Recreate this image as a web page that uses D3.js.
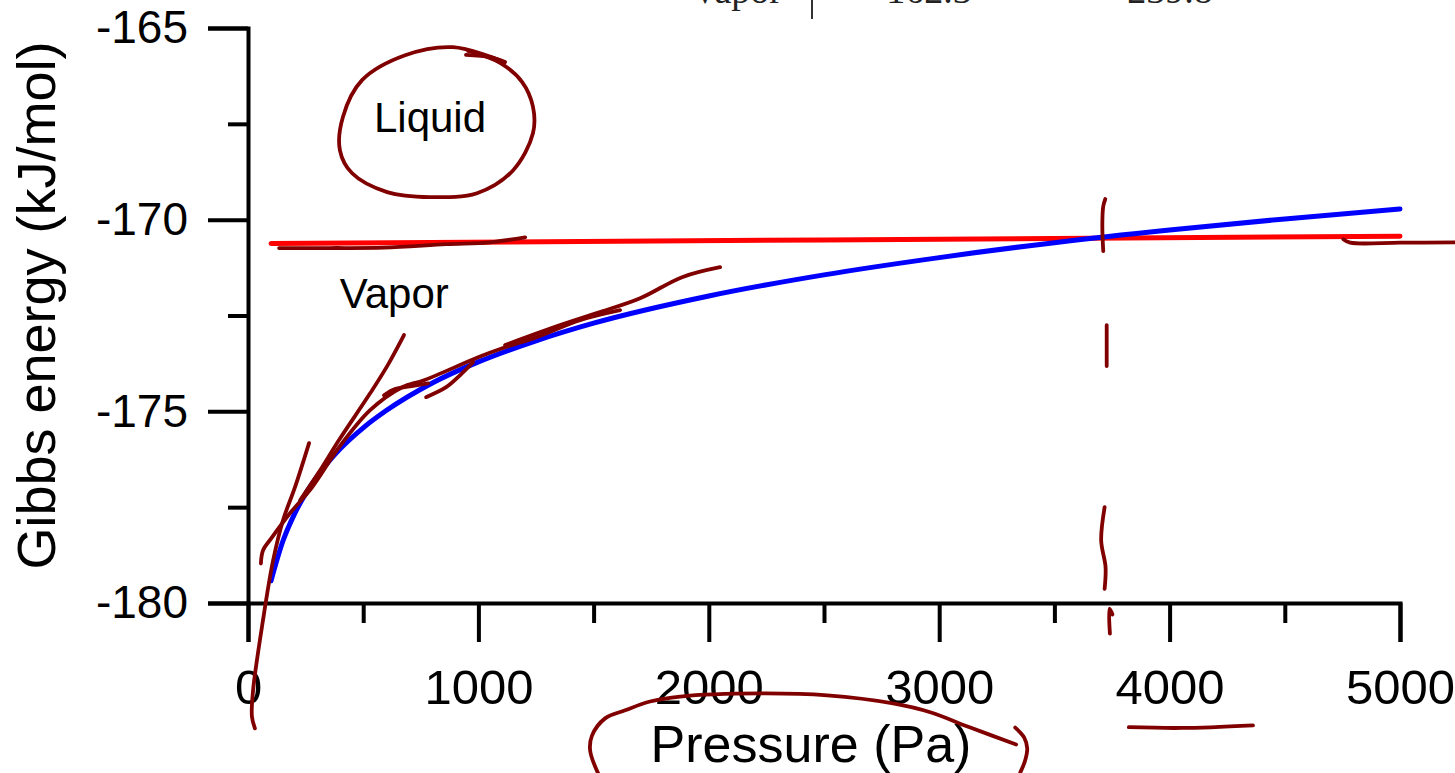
<!DOCTYPE html>
<html>
<head>
<meta charset="utf-8">
<script src="https://cdn.jsdelivr.net/npm/d3@7"></script>
<style>
  html, body { margin: 0; padding: 0; background: #fff; overflow: hidden; }
  svg { display: block; }
  .axis path, .axis line { stroke: #000; stroke-width: 4; }
  .axis text { fill: #000; font-family: "Liberation Sans", Arial, sans-serif; }
  .ink { fill: none; stroke: #800000; stroke-width: 3.8; stroke-linecap: round; stroke-linejoin: round; }
</style>
</head>
<body>
<svg id="chart" width="1455" height="773"></svg>
<script>
// Pressure (Pa) and molar Gibbs energy (kJ/mol) of each phase
const vaporP = [100, 150, 200, 250, 300, 400, 500, 600, 800, 1000, 1250, 1500, 2000, 2500, 3000, 3500, 4000, 4500, 5000];
const vaporG = [-179.42, -178.41, -177.70, -177.15, -176.70, -175.98, -175.43, -174.98, -174.26, -173.71,
                -173.16, -172.70, -171.99, -171.44, -170.99, -170.60, -170.27, -169.98, -169.72];
const liquidP = [100, 2500, 5000];
const liquidG = [-170.62, -170.53, -170.43];

// Axis ticks
const xMajorTicks = [0, 1000, 2000, 3000, 4000, 5000];
const xMinorTicks = [500, 1500, 2500, 3500, 4500];
const yMajorTicks = [-180, -175, -170, -165];
const yMinorTicks = [-177.5, -172.5, -167.5];

// Phase labels
const phaseLabels = ["Liquid", "Vapor"];
const phaseLabelAt = [[790, -167.7], [635, -172.3]];

// Hand-drawn pen strokes, in (pressure, energy) units
const inkLiquidLoop = [[1094,-165.84],[890,-165.50],[682,-165.71],[495,-166.36],[412,-167.32],[399,-168.19],[452,-168.79],
  [604,-169.28],[790,-169.41],[994,-169.31],[1151,-168.71],[1237,-167.74],[1237,-167.06],[1190,-166.41],[1094,-165.91],[955,-165.60]];
const inkLiquidTail = [[946,-165.70],[1051,-165.76],[1116,-165.89]];
const inkLiquidUnder = [[135,-170.74],[356,-170.74],[590,-170.73],[860,-170.64],[1051,-170.59],[1203,-170.46]];
const inkLiquidEnd = [[4754,-170.51],[4784,-170.60],[5001,-170.60],[5240,-170.59]];
const inkSteepTangent = [[30,-183.27],[17,-182.96],[22,-182.28],[65,-180.45],[109,-178.89],[152,-177.84],[204,-176.98],[265,-175.83]];
const inkTrace = [[56,-178.97],[65,-178.63],[104,-178.29],[182,-177.66],[278,-176.98],[395,-175.94],[530,-174.97],
  [669,-174.37],[764,-174.19],[999,-173.59],[1116,-173.33],[1250,-173.07],[1441,-172.62],[1615,-172.36]];
const inkTraceUpper = [[1116,-173.27],[1355,-172.75],[1528,-172.41],[1702,-172.05],[1884,-171.50],[2049,-171.24]];
const inkTangent500 = [[226,-177.32],[313,-176.54],[395,-175.75],[530,-174.53],[604,-173.82],[677,-173.01]];
const inkWiggle = [[590,-174.58],[638,-174.42],[703,-174.35],[782,-174.27]];
const inkShort = [[773,-174.63],[860,-174.37],[920,-174.06],[977,-173.72]];
const inkDash1 = [[3721,-169.46],[3712,-169.65],[3708,-170.14],[3712,-170.82]];
const inkDash2 = [[3727,-172.75],[3727,-173.82]];
const inkDash3 = [[3718,-177.50],[3703,-178.37],[3722,-179.06],[3718,-179.63]];
const inkDash4 = [[3741,-180.80],[3739,-180.15],[3752,-180.30]];
const inkUnder4000 = [[3823,-183.24],[4053,-183.26],[4362,-183.19]];
const inkTitleLoop = [[1520,-184.45],[1485,-183.85],[1493,-183.46],[1550,-183.01],[1637,-182.80],[1745,-182.57],[1876,-182.44],
  [2223,-182.36],[2514,-182.41],[2800,-182.62],[2961,-182.85],[3135,-183.25],[3334,-183.69]];
const inkTitleBracket = [[3330,-183.25],[3369,-183.51],[3382,-183.79],[3373,-184.11],[3352,-184.42]];
const inkStrokes = [inkLiquidLoop, inkLiquidTail, inkLiquidUnder, inkLiquidEnd, inkSteepTangent, inkTrace, inkTraceUpper,
  inkTangent500, inkWiggle, inkShort, inkDash1, inkDash2, inkDash3, inkDash4, inkUnder4000, inkTitleLoop, inkTitleBracket];

// Table row running off the top edge
const tableRow = ["Vapor", "162.3", "239.8"];

const svg = d3.select("#chart");
const x = d3.scaleLinear().domain([0, 5000]).range([248, 1400]);
const y = d3.scaleLinear().domain([-180, -165]).range([603, 28]);
const plain = d => String(d);

// x axis
svg.append("g").attr("class", "axis").attr("transform", `translate(0,${y(-180)})`)
  .call(d3.axisBottom(x).tickValues(xMajorTicks).tickSize(39).tickPadding(27).tickFormat(plain))
  .call(g => g.selectAll("text").style("font-size", "49px"));
svg.append("g").attr("class", "axis").attr("transform", `translate(0,${y(-180)})`)
  .call(d3.axisBottom(x).tickValues(xMinorTicks).tickSize(20).tickFormat(""))
  .call(g => g.select(".domain").remove());

// y axis
svg.append("g").attr("class", "axis").attr("transform", `translate(${x(0)},0)`)
  .call(d3.axisLeft(y).tickValues(yMajorTicks).tickSize(40).tickPadding(20).tickFormat(plain))
  .call(g => g.selectAll("text").style("font-size", "46px"));
svg.append("g").attr("class", "axis").attr("transform", `translate(${x(0)},0)`)
  .call(d3.axisLeft(y).tickValues(yMinorTicks).tickSize(20).tickFormat(""))
  .call(g => g.select(".domain").remove());

// axis titles
svg.append("text").attr("x", 811).attr("y", 762)
  .attr("text-anchor", "middle").style("font-family", "Liberation Sans, Arial, sans-serif")
  .style("font-size", "52px").text("Pressure (Pa)");
svg.append("text").attr("transform", `translate(55,${(y(-165) + y(-180)) / 2 - 10}) rotate(-90)`)
  .attr("text-anchor", "middle").style("font-family", "Liberation Sans, Arial, sans-serif")
  .style("font-size", "54px").text("Gibbs energy (kJ/mol)");

// phase curves
const line = d3.line().x(d => x(d[0])).y(d => y(d[1])).curve(d3.curveMonotoneX);
svg.append("path").datum(liquidP.map((p, i) => [p, liquidG[i]])).attr("d", line)
  .attr("fill", "none").attr("stroke", "#ff0000").attr("stroke-width", 5).attr("stroke-linecap", "round");
svg.append("path").datum(vaporP.map((p, i) => [p, vaporG[i]])).attr("d", line)
  .attr("fill", "none").attr("stroke", "#0000ff").attr("stroke-width", 5).attr("stroke-linecap", "round");

// phase labels
svg.selectAll("text.phase").data(phaseLabels).join("text").attr("class", "phase")
  .attr("x", (d, i) => x(phaseLabelAt[i][0])).attr("y", (d, i) => y(phaseLabelAt[i][1]))
  .attr("text-anchor", "middle").style("font-family", "Liberation Sans, Arial, sans-serif")
  .style("font-size", "42px").text(d => d);

// table row cut by the top edge
const serif = "Liberation Serif, Times New Roman, serif";
svg.append("text").attr("x", 782).attr("y", 3).attr("text-anchor", "end")
  .style("font-family", serif).style("font-size", "38px").attr("fill", "#222").text(tableRow[0]);
svg.append("line").attr("x1", 812).attr("x2", 812).attr("y1", 0).attr("y2", 19)
  .attr("stroke", "#333").attr("stroke-width", 2);
svg.append("text").attr("x", 929).attr("y", 3).attr("text-anchor", "middle")
  .style("font-family", serif).style("font-size", "38px").attr("fill", "#222").text(tableRow[1]);
svg.append("text").attr("x", 1170).attr("y", 3).attr("text-anchor", "middle")
  .style("font-family", serif).style("font-size", "38px").attr("fill", "#222").text(tableRow[2]);

// pen strokes on top
const inkLine = d3.line().x(d => x(d[0])).y(d => y(d[1])).curve(d3.curveCatmullRom.alpha(0.5));
svg.selectAll("path.ink").data(inkStrokes).join("path").attr("class", "ink").attr("d", inkLine);
</script>
</body>
</html>
